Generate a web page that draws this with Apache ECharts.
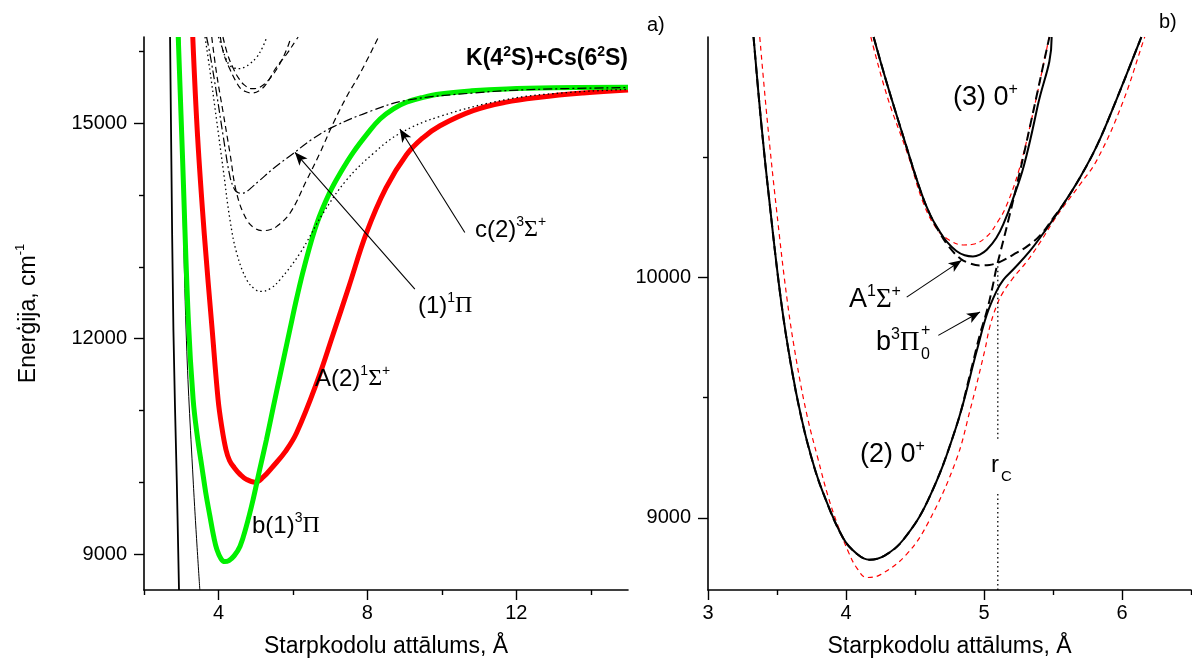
<!DOCTYPE html>
<html><head><meta charset="utf-8">
<script src="https://cdn.jsdelivr.net/npm/echarts@6/dist/echarts.min.js"></script>
<style>html,body{margin:0;padding:0;background:#fff}#c{width:1192px;height:658px}</style>
</head><body><div id="c"></div>
<script>
// ---------- tick values ----------
const leftXMajor = [4, 8, 12];
const leftXMinor = [2, 6, 10, 14];
const leftYMajor = [9000, 12000, 15000];
const leftYMinor = [10000, 11000, 13000, 14000, 16000];
const rightXMajor = [3, 4, 5, 6];
const rightXMinor = [3.5, 4.5, 5.5, 6.5];
const rightYMajor = [9000, 10000];
const rightYMinor = [9500, 10500];

// ---------- panel a) potential curves [R (Å), E (cm-1)] ----------
const wallX1 = [[2.70,16200],[2.79,12121],[2.88,10031],[2.94,8500]];
const wallX2 = [[2.96,16200],[3.01,14907],[3.13,12121],[3.32,10031],[3.50,8500]];
const stateB3Pi = [[2.92,16200],[3.03,14594],[3.19,12269],[3.32,11153],[3.43,10650],[3.55,10230],[3.66,9850],[3.77,9530],[3.87,9250],[3.96,9060],[4.07,8935],[4.17,8896],[4.28,8910],[4.42,8975],[4.58,9110],[4.75,9390],[4.93,9759],[5.10,10160],[5.29,10596],[5.47,11040],[5.65,11478],[5.92,12130],[6.10,12560],[6.30,12990],[6.64,13600],[6.99,14036],[7.30,14330],[7.62,14594],[8.00,14855],[8.34,15059],[8.70,15200],[9.05,15291],[9.50,15360],[9.95,15407],[10.80,15450],[11.74,15477],[13.00,15492],[15.00,15500]];
const stateA1Sigma = [[3.31,16200],[3.44,14808],[3.62,13450],[3.83,12130],[3.99,11153],[4.08,10800],[4.20,10456],[4.30,10300],[4.43,10200],[4.58,10110],[4.75,10040],[4.98,10000],[5.20,10070],[5.47,10223],[5.80,10430],[6.10,10689],[6.64,11386],[7.08,12060],[7.50,12720],[7.98,13478],[8.50,14098],[9.05,14560],[9.50,14800],[9.95,14965],[10.84,15175],[11.70,15290],[12.63,15361],[13.80,15420],[15.00,15463]];
const state1Pi = [[3.68,16200],[3.77,15968],[3.95,15412],[4.13,14810],[4.31,14254],[4.44,14069],[4.52,14035],[4.62,14023],[4.75,14045],[4.90,14110],[5.10,14200],[5.50,14380],[6.01,14579],[6.50,14770],[7.08,14949],[8.16,15181],[9.05,15319],[10.84,15420],[12.50,15470],[15.00,15495]];
const stateC3Sigma = [[3.64,16200],[3.77,15736],[3.95,15042],[4.13,14347],[4.31,13653],[4.49,13190],[4.76,12819],[5.00,12680],[5.16,12657],[5.40,12700],[5.65,12819],[6.19,13190],[6.81,13746],[7.44,14208],[8.16,14579],[8.87,14857],[9.95,15095],[11.74,15330],[13.20,15420],[15.00,15470]];
const stateMidDash = [[3.82,16200],[3.95,15690],[4.13,15135],[4.31,14579],[4.49,14023],[4.76,13653],[5.00,13530],[5.20,13504],[5.40,13520],[5.56,13560],[5.92,13746],[6.37,14208],[6.72,14579],[7.08,14995],[7.44,15366],[7.80,15690],[8.30,16200]];
const stateUpDash1 = [[4.05,16200],[4.15,15950],[4.30,15760],[4.45,15600],[4.60,15480],[4.76,15435],[4.89,15420],[5.11,15458],[5.29,15551],[5.56,15782],[5.83,15960],[6.10,16170],[6.14,16200]];
const stateUpDash2 = [[4.12,16200],[4.25,15950],[4.40,15760],[4.55,15620],[4.70,15530],[4.90,15480],[5.11,15500],[5.38,15621],[5.65,15829],[5.85,16050],[5.95,16200]];
const stateUpDot = [[4.00,16200],[4.10,16050],[4.20,15900],[4.31,15800],[4.45,15765],[4.58,15760],[4.72,15785],[4.85,15829],[5.03,15921],[5.18,16050],[5.30,16200]];

// ---------- panel b) ----------
const adiab2 = [[3.33,11000],[3.385,10646],[3.45,10290],[3.53,9900],[3.60,9640],[3.675,9420],[3.75,9250],[3.83,9110],[3.98,8915],[4.08,8850],[4.17,8826],[4.28,8843],[4.415,8909],[4.593,9072],[4.797,9376],[4.95,9700],[5.02,9845],[5.09,9942],[5.14,9990],[5.21,10032],[5.33,10108],[5.45,10200],[5.57,10300],[5.70,10420],[5.82,10550],[5.96,10740],[6.13,10985],[6.14,11000]];
const adiab3 = [[4.20,11000],[4.30,10800],[4.42,10577],[4.54,10360],[4.61,10260],[4.68,10190],[4.73,10149],[4.80,10110],[4.86,10092],[4.92,10087],[4.97,10095],[5.02,10115],[5.09,10165],[5.15,10235],[5.20,10310],[5.29,10467],[5.39,10716],[5.49,10995],[5.49,11000]];
const diabB = [[3.33,11000],[3.385,10646],[3.45,10290],[3.53,9900],[3.60,9640],[3.675,9420],[3.75,9250],[3.83,9110],[3.98,8915],[4.08,8850],[4.17,8826],[4.28,8843],[4.415,8909],[4.593,9072],[4.797,9376],[4.90,9600],[4.97,9762],[5.02,9859],[5.06,9956],[5.09,10039],[5.12,10108],[5.18,10246],[5.26,10439],[5.34,10646],[5.47,10990],[5.475,11000]];
const diabA = [[4.20,11000],[4.30,10800],[4.42,10577],[4.54,10360],[4.61,10260],[4.68,10185],[4.75,10125],[4.83,10078],[4.90,10058],[4.97,10050],[5.04,10052],[5.12,10066],[5.21,10094],[5.31,10128],[5.41,10177],[5.50,10246],[5.57,10300],[5.70,10420],[5.82,10550],[5.96,10740],[6.13,10985],[6.14,11000]];
const redLower = [[3.375,11000],[3.43,10650],[3.495,10290],[3.575,9900],[3.645,9640],[3.72,9420],[3.795,9250],[3.87,9090],[3.94,8970],[4.02,8855],[4.08,8790],[4.15,8752],[4.25,8764],[4.44,8849],[4.60,8985],[4.797,9238],[4.90,9450],[5.007,9700],[5.04,9790],[5.09,9880],[5.14,9940],[5.21,9997],[5.31,10066],[5.41,10149],[5.50,10232],[5.57,10290],[5.70,10390],[5.82,10490],[6.00,10720],[6.16,10992],[6.165,11000]];
const redUpper = [[4.18,11000],[4.30,10750],[4.45,10508],[4.56,10310],[4.66,10200],[4.75,10155],[4.85,10135],[4.92,10138],[5.02,10170],[5.10,10232],[5.16,10295],[5.25,10440],[5.34,10646],[5.47,10992],[5.472,11000]];
const rcLine = [[5.1,8700],[5.1,9107],null,[5.1,9329],[5.1,10055]];

// ---------- arrows [tail, head] ----------
const arrowsLeft = [[[9.275,12688],[6.054,14594]],[[10.617,13478],[8.872,14918]]];
const arrowsRight = [[[4.44,9918],[4.838,10071]],[[4.669,9759],[4.971,9856]]];

const SANS = 'Liberation Sans', SERIF = 'Liberation Serif';
const chart = echarts.init(document.getElementById('c'), null, {renderer:'canvas'});

function xAx(grid, min, max, ticks, len, showLine, labels, name) {
  return {type:'value', gridIndex:grid, min, max, position:'bottom', offset:0,
    axisLine:{show:showLine, onZero:false, lineStyle:{color:'#000', width:1.6}},
    axisTick:{show:true, length:len, customValues:ticks, lineStyle:{color:'#000', width:1.4}},
    axisLabel:{show:!!labels, customValues:labels||[], color:'#000', fontSize:20, fontFamily:SANS, margin:13,
      formatter:(v)=>String(v)},
    splitLine:{show:false},
    name: name||'', nameLocation:'middle', nameGap:45,
    nameTextStyle:{color:'#000', fontSize:23, fontFamily:SANS}};
}
function yAx(grid, min, max, ticks, len, showLine, labels, name) {
  const o = {type:'value', gridIndex:grid, min, max, position:'left', offset:0,
    axisLine:{show:showLine, onZero:false, lineStyle:{color:'#000', width:1.6}},
    axisTick:{show:true, length:len, customValues:ticks, lineStyle:{color:'#000', width:1.4}},
    axisLabel:{show:!!labels, customValues:labels||[], color:'#000', fontSize:20, fontFamily:SANS, margin:17,
      formatter:(v)=>String(v)},
    splitLine:{show:false}};
  if (name) {
    o.name = name; o.nameLocation = 'middle'; o.nameGap = 100;
    o.nameTextStyle = {color:'#000', fontFamily:SANS, fontSize:23,
      rich:{t:{fontSize:23, fontFamily:SANS, color:'#000'}, s:{fontSize:13, fontFamily:SANS, color:'#000', verticalAlign:'top', lineHeight:30}}};
  }
  return o;
}
function ln(data, xi, color, width, type, z, smooth) {
  return {type:'line', data, xAxisIndex:xi, yAxisIndex:xi, symbol:'none', showSymbol:false,
    smooth: smooth===undefined?0.4:smooth, connectNulls:false, clip:true, silent:true, animation:false, z:z||2,
    lineStyle:{color, width, type}};
}
function arrowSeries(list, xi) {
  return {type:'line', data:[], xAxisIndex:xi, yAxisIndex:xi, silent:true, animation:false, z:6,
    markLine:{silent:true, animation:false, symbol:['none','arrow'], symbolSize:[8,13], precision:4,
      label:{show:false}, lineStyle:{color:'#000', width:1.1, type:'solid'},
      data:list.map(a=>[{coord:a[0]},{coord:a[1]}])}};
}

const DASH = [6,4], DOT = [1.5,3], DASHDOT = [9,3,2,3];
const option = {
  animation:false, backgroundColor:'#fff',
  grid:[{left:144, top:37, width:484, height:553, containLabel:false, outerBoundsMode:'none'},
        {left:708, top:37, width:483, height:553, containLabel:false, outerBoundsMode:'none'}],
  xAxis:[
    xAx(0, 2, 15, leftXMajor, 10, true, leftXMajor, 'Starpkodolu attālums, Å'),
    xAx(0, 2, 15, leftXMinor, 5, false, null),
    xAx(1, 3, 6.5, rightXMajor, 10, true, rightXMajor, 'Starpkodolu attālums, Å'),
    xAx(1, 3, 6.5, rightXMinor, 5, false, null)
  ],
  yAxis:[
    yAx(0, 8500, 16200, leftYMajor, 10, true, leftYMajor, '{t|Enerģija, cm}{s|-1}'),
    yAx(0, 8500, 16200, leftYMinor, 5, false, null),
    yAx(1, 8700, 11000, rightYMajor, 10, true, rightYMajor),
    yAx(1, 8700, 11000, rightYMinor, 5, false, null)
  ],
  series:[
    ln(wallX1, 0, '#000', 1.8, 'solid', 2),
    ln(wallX2, 0, '#000', 1, 'solid', 2),
    ln(stateA1Sigma, 0, '#ff0000', 5, 'solid', 3),
    ln(stateB3Pi, 0, '#00f000', 5, 'solid', 4),
    ln(state1Pi, 0, '#000', 1.2, DASHDOT, 5),
    ln(stateC3Sigma, 0, '#000', 1.3, DOT, 5),
    ln(stateMidDash, 0, '#000', 1.2, DASH, 5),
    ln(stateUpDash1, 0, '#000', 1.2, DASH, 5),
    ln(stateUpDash2, 0, '#000', 1.2, DASH, 5),
    ln(stateUpDot, 0, '#000', 1.3, DOT, 5),
    ln(redLower, 2, '#ff0000', 1.2, [5,4], 2),
    ln(redUpper, 2, '#ff0000', 1.2, [5,4], 2),
    ln(adiab2, 2, '#000', 2, 'solid', 4),
    ln(adiab3, 2, '#000', 2, 'solid', 4),
    ln(diabB, 2, '#000', 2, [9,5], 5),
    ln(diabA, 2, '#000', 2, [9,5], 5),
    ln(rcLine, 2, '#000', 1.3, [1.5,3], 3, false),
    arrowSeries(arrowsLeft, 0),
    arrowSeries(arrowsRight, 2)
  ]
};

// ---------- text annotations ----------
function rt(fs) {
  return {n:{fontSize:fs, fontFamily:SANS, fill:'#000', lineHeight:fs+6},
          s:{fontSize:Math.round(fs*0.6), fontFamily:SANS, fill:'#000', verticalAlign:'top', lineHeight:fs+6},
          g:{fontSize:fs, fontFamily:SERIF, fill:'#000', lineHeight:fs+6}};
}
function txt(x, y, text, fs, align) {
  return {type:'text', x, y, silent:true, z:10,
    style:{text, rich:rt(fs), fontSize:fs, fontFamily:SANS, fill:'#000', textAlign:align||'left', textVerticalAlign:'middle'}};
}
function plain(x, y, text, fs) {
  return {type:'text', x, y, silent:true, z:10, style:{text, fontSize:fs, fontFamily:SANS, fill:'#000', textAlign:'left', textVerticalAlign:'middle'}};
}
option.graphic = [
  {type:'text', x:628, y:59, silent:true, z:10, style:{text:'{n|K(4}{s|2}{n|S)+Cs(6}{s|2}{n|S)}', textAlign:'right', textVerticalAlign:'middle',
     rich:{n:{fontSize:23, fontWeight:'bold', fontFamily:SANS, fill:'#000', lineHeight:28}, s:{fontSize:14, fontWeight:'bold', fontFamily:SANS, fill:'#000', verticalAlign:'top', lineHeight:28}}}},
  txt(475, 230, '{n|c(2)}{s|3}{g|Σ}{s|+}', 24),
  txt(418, 306, '{n|(1)}{s|1}{g|Π}', 24),
  txt(315, 379, '{n|A(2)}{s|1}{g|Σ}{s|+}', 24),
  txt(252, 526, '{n|b(1)}{s|3}{g|Π}', 24),
  plain(647, 25, 'a)', 20),
  plain(1159, 22, 'b)', 20),
  txt(953, 98, '{n|(3) 0}{s|+}', 27),
  txt(860, 455, '{n|(2) 0}{s|+}', 27),
  txt(849, 300, '{n|A}{s|1}{g|Σ}{s|+}', 27),
  txt(876, 343, '{n|b}{s|3}{g|Π}', 27),
  plain(921, 331, '+', 16),
  plain(921, 355, '0', 16),
  plain(991, 465, 'r', 24),
  plain(1001, 477, 'C', 15)
];
chart.setOption(option);
</script></body></html>
